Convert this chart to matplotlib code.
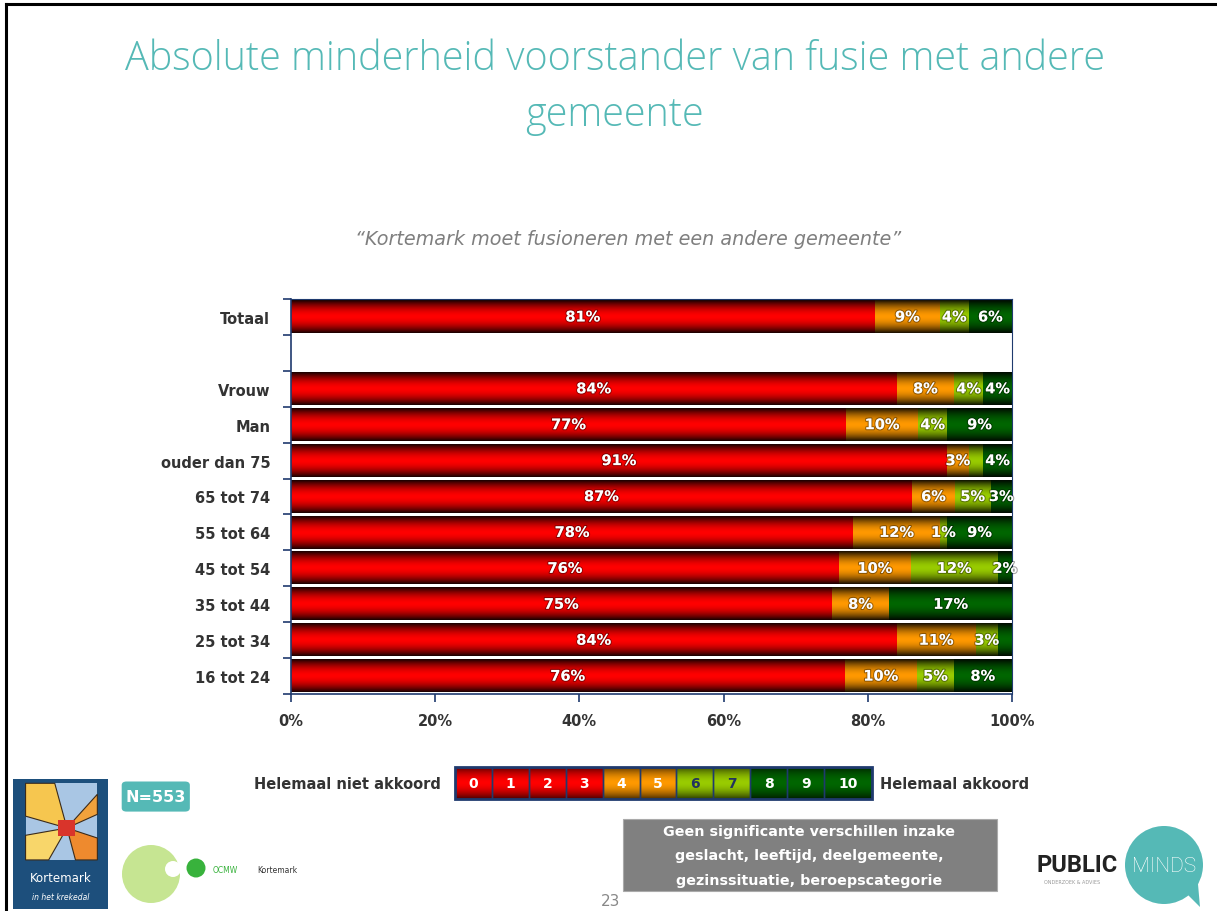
####### IMPORT BLOCK #######

import numpy as np
import matplotlib.pyplot as plt
import matplotlib.patheffects as pe
from matplotlib.patches import FancyBboxPatch, Ellipse, Polygon, Rectangle
from matplotlib.lines import Line2D
from matplotlib.colors import to_rgb

####### DATA BLOCK #######

title = "Absolute minderheid voorstander van fusie met andere\ngemeente"
subtitle = "\u201cKortemark moet fusioneren met een andere gemeente\u201d"

categories = ["Totaal", "", "Vrouw", "Man", "ouder dan 75", "65 tot 74",
              "55 tot 64", "45 tot 54", "35 tot 44", "25 tot 34", "16 tot 24"]

# score groups 0-3 / 4-5 / 6-7 / 8-10 (percentages)
score_0_3 = [81, 0, 84, 77, 91, 87, 78, 76, 75, 84, 76]
score_4_5 = [9, 0, 8, 10, 3, 6, 12, 10, 8, 11, 10]
score_6_7 = [4, 0, 4, 4, 2, 5, 1, 12, 0, 3, 5]
score_8_10 = [6, 0, 4, 9, 4, 3, 9, 2, 17, 2, 8]

series_colors = ["#ff0000", "#ff9900", "#99cc00", "#006600"]

# segments without a printed label (category, series index)
hidden_labels = [("ouder dan 75", 2), ("25 tot 34", 3)]

x_ticks = [0, 20, 40, 60, 80, 100]

scale_points = ["0", "1", "2", "3", "4", "5", "6", "7", "8", "9", "10"]
scale_group = [0, 0, 0, 0, 1, 1, 2, 2, 3, 3, 3]

note_lines = ["Geen significante verschillen inzake",
              "geslacht, leeftijd, deelgemeente,",
              "gezinssituatie, beroepscategorie"]

NAVY = "#1f3a6e"
TEAL = "#55b9b6"
W, H = 1217, 912

####### HELPERS #######

def shade(color, depth=0.9, power=1.8, n=64):
    # vertical gradient: dark edges, full colour in the middle
    t = np.linspace(0, 1, n)
    f = 1 - depth * np.abs(2 * t - 1) ** power
    rgb = np.array(to_rgb(color))
    return (f[:, None] * rgb)[:, None, :]

def paint_bars(ax, bars, color, depth=0.9):
    for rect in bars:
        w = rect.get_width()
        h = rect.get_height()
        if w <= 0 or h <= 0:
            continue
        x0, y0 = rect.get_x(), rect.get_y()
        ax.imshow(shade(color, depth), extent=[x0, x0 + w, y0, y0 + h],
                  aspect="auto", interpolation="bilinear", zorder=2)

def disc(fig, x, y, r, color):
    # round disc given in pixel units of the slide
    fig.patches.append(Ellipse((x / W, 1 - y / H), 2 * r / W, 2 * r / H,
                               transform=fig.transFigure, facecolor=color,
                               edgecolor="none"))

####### FIGURE #######

fig = plt.figure(figsize=(W / 100, H / 100), dpi=100)
fig.patch.set_facecolor("white")

# slide frame (top and left edges)
fig.add_artist(Line2D([0.005, 1.0], [0.994, 0.994], color="black", lw=2.2))
fig.add_artist(Line2D([0.005, 0.005], [0.0, 0.994], color="black", lw=2.2))

fig.text(0.505, 0.904, title, ha="center", va="center", color=TEAL,
         fontsize=28.5, family="Open Sans", fontweight="light", linespacing=1.5)
fig.text(0.516, 0.737, subtitle, ha="center", va="center", color="#7f7f7f",
         fontsize=13.8, style="italic")

####### CHART #######

ax = fig.add_axes([0.2391, 0.2379, 0.5925, 0.4332])
series = [score_0_3, score_4_5, score_6_7, score_8_10]
rows = np.arange(len(categories))
totals = np.array([sum(v) for v in zip(*series)], dtype=float)
totals[totals == 0] = 1
lefts = np.zeros(len(categories))

for si, (vals, col) in enumerate(zip(series, series_colors)):
    widths = np.array(vals) / totals * 100
    bars = ax.barh(rows, widths, left=lefts, height=0.9, color=col,
                   edgecolor="none", zorder=1)
    paint_bars(ax, bars, col)
    for ri, (v, w, l) in enumerate(zip(vals, widths, lefts)):
        if v <= 0 or (categories[ri], si) in hidden_labels:
            continue
        ax.text(l + w / 2, ri, f"{v}%", ha="center", va="center",
                color="white", fontsize=10.5, fontweight="bold", zorder=4,
                path_effects=[pe.withStroke(linewidth=1.6, foreground=(0, 0, 0, 0.35))])
    lefts = lefts + widths

ax.set_xlim(0, 100)
ax.set_ylim(len(categories) - 0.5, -0.5)
ax.set_xticks(x_ticks)
ax.set_xticklabels([f"{t}%" for t in x_ticks], fontsize=10.5,
                   fontweight="bold", color="#333333")
ax.set_yticks(rows)
ax.set_yticklabels(categories, fontsize=10.5, fontweight="bold", color="#333333")
ax.set_yticks(np.arange(len(categories) + 1) - 0.5, minor=True)
ax.tick_params(axis="y", which="major", length=0, pad=15)
ax.tick_params(axis="y", which="minor", length=6, color=NAVY, width=1.2)
ax.tick_params(axis="x", length=6, color=NAVY, width=1.2, pad=8)
for name, sp in ax.spines.items():
    sp.set_color(NAVY)
    sp.set_linewidth(1.2 if name in ("left", "bottom") else 0.8)

####### SCALE LEGEND #######

lax = fig.add_axes([0.3739, 0.1228, 0.3426, 0.0351])
box_w = [1.0 if len(p) == 1 else 1.3 for p in scale_points]
box_x = np.concatenate([[0], np.cumsum(box_w)[:-1]])
for p, g, x, w in zip(scale_points, scale_group, box_x, box_w):
    col = series_colors[g]
    b = lax.bar([x], [1], width=w, align="edge", color=col, edgecolor="none")
    paint_bars(lax, b, col, depth=0.7)
    lax.add_patch(Rectangle((x, 0), w, 1, fill=False, edgecolor=NAVY, lw=1.0, zorder=3))
    txt_col = "#22335e" if g == 2 else "white"
    lax.text(x + w / 2, 0.5, p, ha="center", va="center", color=txt_col,
             fontsize=10, fontweight="bold", zorder=4)
lax.set_xlim(0, sum(box_w))
lax.set_ylim(0, 1)
lax.axis("off")
lax.add_patch(Rectangle((0, 0), sum(box_w), 1, fill=False, edgecolor=NAVY,
                        lw=2, zorder=5, clip_on=False))

fig.text(0.362, 0.140, "Helemaal niet akkoord", ha="right", va="center",
         fontsize=10.5, fontweight="bold", color="#333333")
fig.text(0.723, 0.140, "Helemaal akkoord", ha="left", va="center",
         fontsize=10.5, fontweight="bold", color="#333333")

####### FOOTER #######

# N box
fig.patches.append(FancyBboxPatch((0.100, 0.109), 0.056, 0.033,
                                  boxstyle="round,pad=0.0,rounding_size=0.004",
                                  transform=fig.transFigure, facecolor=TEAL,
                                  edgecolor="none"))
fig.text(0.128, 0.126, "N=553", ha="center", va="center", color="white",
         fontsize=11.5, fontweight="bold")

# note box
fig.patches.append(Rectangle((0.512, 0.022), 0.307, 0.079,
                             transform=fig.transFigure, facecolor="#808080",
                             edgecolor="#aaaaaa", lw=0.8))
for i, line in enumerate(note_lines):
    fig.text(0.665, 0.088 - i * 0.027, line, ha="center", va="center",
             color="white", fontsize=10.3, fontweight="bold")

fig.text(0.502, 0.012, "23", ha="center", va="center", color="#888888", fontsize=11)

# Kortemark logo
fig.patches.append(Rectangle((0.011, 0.002), 0.078, 0.143,
                             transform=fig.transFigure, facecolor="#1d4f7c",
                             edgecolor="none"))
lx0, lx1, ly0, ly1 = 0.021, 0.080, 0.056, 0.140
cx, cy = 0.055, 0.091
fig.patches.append(Rectangle((lx0, ly0), lx1 - lx0, ly1 - ly0,
                             transform=fig.transFigure, facecolor="#a9c6e4",
                             edgecolor="none"))
pieces = [([(lx0, ly1), (0.045, ly1), (cx, cy), (lx0, 0.104)], "#f6c64f"),
          ([(lx0, ly0), (lx0, 0.083), (cx, cy), (0.040, ly0)], "#f8d66a"),
          ([(lx1, ly0), (0.062, ly0), (cx, cy), (lx1, 0.080)], "#ee8a2e"),
          ([(lx1, 0.128), (lx1, 0.106), (cx, cy)], "#f2a23c")]
for pts, col in pieces:
    fig.patches.append(Polygon(pts, closed=True, transform=fig.transFigure,
                               facecolor=col, edgecolor="#3a2a1a", lw=0.8))
fig.patches.append(Rectangle((cx - 0.007, cy - 0.009), 0.014, 0.018,
                             transform=fig.transFigure, facecolor="#d9342b",
                             edgecolor="none"))
fig.text(0.050, 0.037, "Kortemark", ha="center", va="center", color="white",
         fontsize=8.5)
fig.text(0.050, 0.016, "in het krekedal", ha="center", va="center",
         color="white", fontsize=5.5, style="italic")

# OCMW logo
disc(fig, 151, 875, 29, "#c6e592")
disc(fig, 173, 870, 8, "white")
disc(fig, 196, 869, 9.5, "#38b23c")
fig.text(0.175, 0.046, "OCMW", ha="left", va="center", color="#38b23c", fontsize=5.5)
fig.text(0.211, 0.046, "Kortemark", ha="left", va="center", color="#333333", fontsize=5.5)

# PUBLIC MINDS logo
fig.patches.append(Polygon([(1172 / W, 1 - 880 / H), (1200 / W, 1 - 908 / H),
                            (1196 / W, 1 - 862 / H)],
                           closed=True, transform=fig.transFigure,
                           facecolor=TEAL, edgecolor="none"))
disc(fig, 1164, 866, 39, TEAL)
fig.text(1118 / W, 0.051, "PUBLIC", ha="right", va="center", color="#222222",
         fontsize=17, fontweight="bold", family="Roboto")
fig.text(1164 / W, 0.050, "MINDS", ha="center", va="center", color="white",
         fontsize=15, family="Roboto", fontweight="light")
fig.text(1072 / W, 0.032, "ONDERZOEK & ADVIES", ha="center", va="center",
         color="#999999", fontsize=3.5)

fig.savefig("out.png", dpi=100)
